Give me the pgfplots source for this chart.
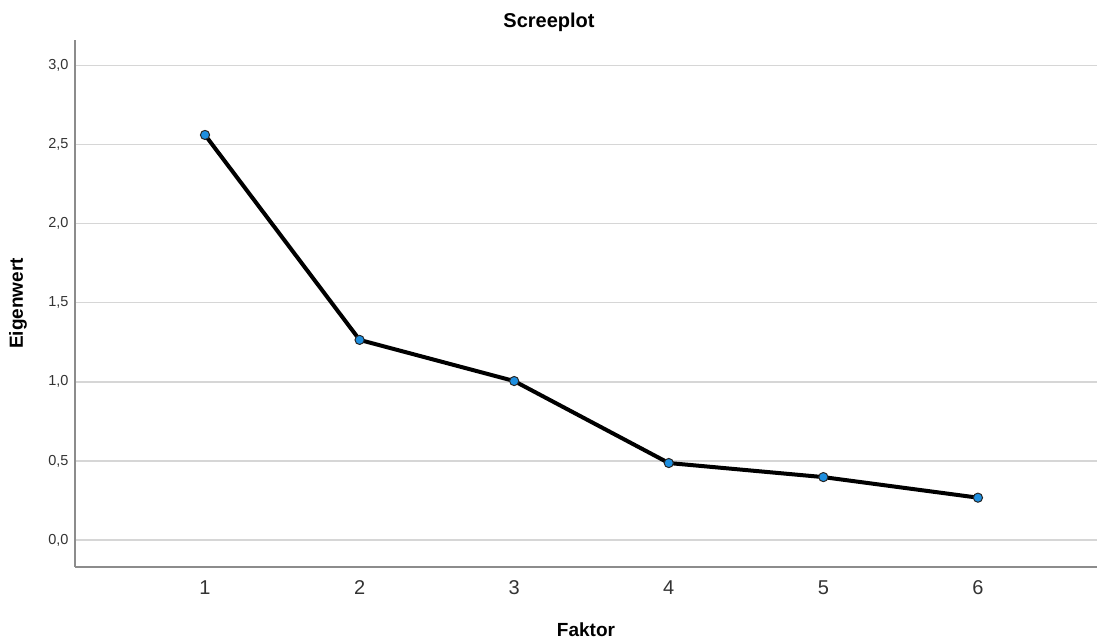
\documentclass[border=0pt]{standalone}
\usepackage{fontspec}
\setmainfont{Liberation Sans}
\usepackage{pgfplots}
\pgfplotsset{compat=1.18}
\definecolor{gridc}{HTML}{D6D6D6}
\definecolor{axisc}{HTML}{8C8C8C}
\definecolor{markc}{HTML}{1E8FE0}
\definecolor{tickc}{HTML}{333333}
\begin{document}
\begin{tikzpicture}
\begin{axis}[
  at={(0pt,0pt)}, anchor=south west,
  scale only axis, width=1022pt, height=527pt,
  xmin=0.159, xmax=6.77, ymin=-0.17, ymax=3.16,
  axis x line*=bottom, axis y line*=left,
  axis line style={axisc, line width=1.4pt},
  xtick={1,2,3,4,5,6}, xticklabels={1,2,3,4,5,6},
  ytick={0,0.5,1,1.5,2,2.5,3},
  yticklabels={{0,0},{0,5},{1,0},{1,5},{2,0},{2,5},{3,0}},
  ymajorgrids, grid style={gridc, line width=1.4pt},
  major tick length=0pt,
  /pgf/number format/assume math mode=true,
  yticklabel style={font=\fontsize{14.5}{17}\selectfont, text=tickc, anchor=east, xshift=-3pt},
  xticklabel style={font=\fontsize{20}{24}\selectfont, text=tickc, anchor=center, yshift=-21pt},
  xlabel={Faktor},
  ylabel={Eigenwert},
  every axis x label/.style={at={(rel axis cs:0.5,0)}, anchor=center, yshift=-63pt, font=\bfseries\fontsize{19}{23}\selectfont},
  every axis y label/.style={at={(rel axis cs:0,0.5)}, anchor=center, xshift=-57pt, rotate=90, font=\bfseries\fontsize{19}{23}\selectfont},
  clip=false,
]
\addplot[black, line width=4pt, mark=*, mark size=4.6pt,
  mark options={fill=markc, draw=black!85, line width=1pt}]
  coordinates {(1,2.56) (2,1.265) (3,1.005) (4,0.487) (5,0.398) (6,0.268)};
\end{axis}
\node[font=\bfseries\fontsize{20}{24}\selectfont] at (474pt,545pt) {Screeplot};
\pgfresetboundingbox
\path (-75pt,-75pt) rectangle (1023pt,567pt);
\end{tikzpicture}
\end{document}
